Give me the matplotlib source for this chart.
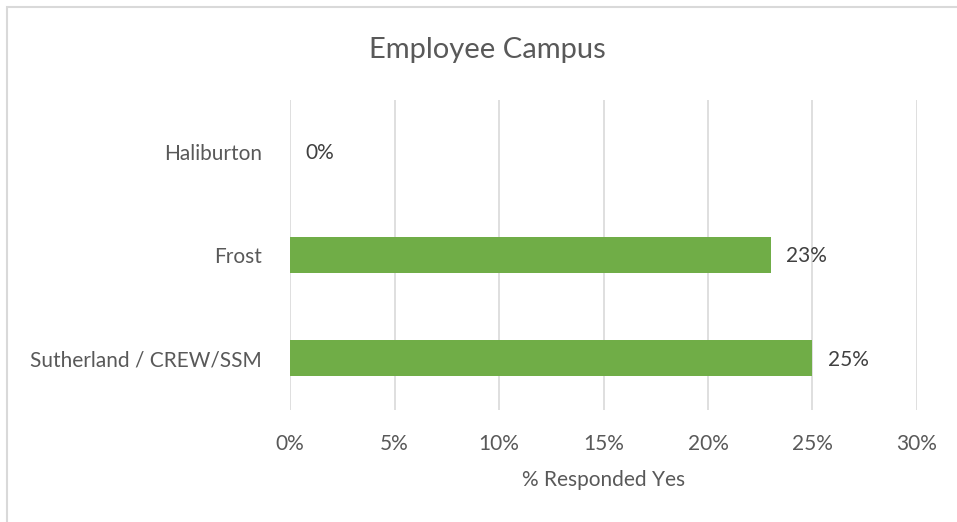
import matplotlib.pyplot as plt
from matplotlib.patches import Rectangle
from matplotlib.ticker import FuncFormatter

# data
campuses = ['Sutherland / CREW/SSM', 'Frost', 'Haliburton']
pct_yes = [25, 23, 0]
x_ticks = [0, 5, 10, 15, 20, 25, 30]

text_col = '#595959'
bar_col = '#70AD47'
grid_col = '#D9D9D9'

plt.rcParams['font.family'] = ['Lato', 'DejaVu Sans']

fig = plt.figure(figsize=(9.57, 5.22), dpi=100)
ax = fig.add_axes([290 / 957, 1 - 410 / 522, 627 / 957, 310 / 522])

# chart border, cut off at the right and bottom like the screenshot
fig.patches.append(Rectangle((7 / 957, -0.2), 1.2, 1.2 - 7 / 522,
                             transform=fig.transFigure, fill=False,
                             edgecolor=grid_col, linewidth=1.5))

ypos = range(len(campuses))
ax.barh(ypos, pct_yes, height=0.35, color=bar_col, zorder=3)

for y, v in zip(ypos, pct_yes):
    ax.annotate(f'{v}%', (v, y), xytext=(11, -1), textcoords='offset points',
                va='center', ha='left', fontsize=15, color='#404040')

ax.set_xlim(0, 30)
ax.set_ylim(-0.5, 2.5)
ax.set_xticks(x_ticks)
ax.xaxis.set_major_formatter(FuncFormatter(lambda v, p: f'{v:.0f}%'))
ax.set_yticks(list(ypos))
ax.set_yticklabels(campuses)
ax.tick_params(axis='both', length=0, labelsize=15, labelcolor=text_col)
ax.tick_params(axis='x', pad=17)
ax.tick_params(axis='y', pad=20)
ax.grid(axis='x', color=grid_col, linewidth=1.2, zorder=0)
for s in ax.spines.values():
    s.set_visible(False)

ax.set_xlabel('% Responded Yes', fontsize=15, color=text_col, labelpad=12)
fig.text(487 / 957, 1 - 50 / 522, 'Employee Campus', ha='center', va='center',
         fontsize=21, color=text_col)

fig.savefig('out.png', dpi=100)
